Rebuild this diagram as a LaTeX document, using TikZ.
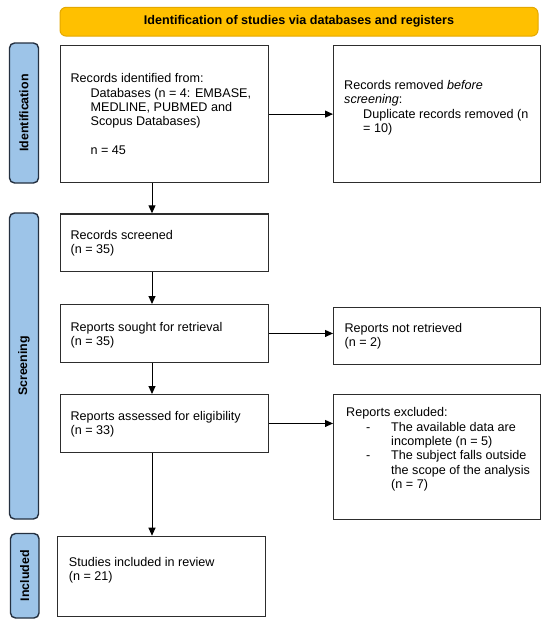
\documentclass[tikz,border=0pt]{standalone}
\usepackage{fontspec}
\setmainfont{Liberation Sans}
\usetikzlibrary{arrows.meta}
\definecolor{bannerfill}{RGB}{255,192,0}
\definecolor{bannerline}{RGB}{228,168,0}
\definecolor{barfill}{RGB}{157,196,232}
\definecolor{barline}{RGB}{36,48,64}
\definecolor{boxline}{RGB}{45,45,45}
\begin{document}
\begin{tikzpicture}[x=1pt,y=-1pt,
  box/.style={draw=boxline, line width=1.2pt, rectangle, inner sep=0pt, anchor=north west},
  txt/.style={anchor=north west, inner sep=0pt, align=left, font=\fontsize{12.6}{14.4}\selectfont},
  sidebar/.style={draw=barline, fill=barfill, line width=1.4pt, rounded corners=5pt, rectangle, inner sep=0pt, rotate=90, font=\fontsize{12.4}{14}\selectfont\bfseries},
  banner/.style={draw=bannerline, fill=bannerfill, line width=1pt, rounded corners=6pt, rectangle, inner sep=0pt, font=\fontsize{12.6}{14}\selectfont\bfseries},
  arr/.style={-{Triangle[length=8pt,width=7pt]}, line width=1pt, draw=black}
]
\useasboundingbox (0,0) rectangle (550,627);

% banner and side bars
\node[banner, minimum width=478pt, minimum height=28.7pt] (ban) at (299,21.7) {Identification of studies via databases and registers};
\node[sidebar, minimum width=140pt, minimum height=29pt] (idbar) at (24,113) {Identification};
\node[sidebar, minimum width=306pt, minimum height=29pt] (scbar) at (24,366) {Screening};
\node[sidebar, minimum width=84.5pt, minimum height=28.5pt] (inbar) at (24.75,575.75) {Included};

% boxes
\node[box, minimum width=208.5pt, minimum height=137pt] (b1) at (59.5,45) {};
\node[box, minimum width=206.5pt, minimum height=137pt] (b2) at (333,45) {};
\node[box, minimum width=208.5pt, minimum height=57.7pt] (b3) at (59.5,213.3) {};
\node[box, minimum width=208.5pt, minimum height=57.7pt] (b4) at (59.5,304) {};
\node[box, minimum width=207pt, minimum height=57.3pt] (b5) at (333,306.7) {};
\node[box, minimum width=208.5pt, minimum height=57.7pt] (b6) at (59.5,394) {};
\node[box, minimum width=207pt, minimum height=125.2pt] (b7) at (333,393.5) {};
\node[box, minimum width=207.5pt, minimum height=79.8pt] (b8) at (57,535.7) {};

% texts
\node[txt] (t1) at (70.4,73.3) {Records identified from:\\
\hspace*{20pt}Databases (n = 4: EMBASE,\\
\hspace*{20pt}MEDLINE, PUBMED and\\
\hspace*{20pt}Scopus Databases)\\[14.4pt]
\hspace*{20pt}n = 45};
\node[txt] (t2) at (344,80) {Records removed \textit{before}\\
\textit{screening}:\\
\hspace*{19pt}Duplicate records removed (n\\
\hspace*{19pt}= 10)};
\node[txt] (t3) at (70.4,230) {Records screened\\(n = 35)};
\node[txt] (t4) at (70.4,321.7) {Reports sought for retrieval\\(n = 35)};
\node[txt] (t5) at (344.4,322.7) {Reports not retrieved\\(n = 2)};
\node[txt] (t6) at (70.4,411) {Reports assessed for eligibility\\(n = 33)};
\node[txt] (t7) at (346,407.3) {Reports excluded:\\
\makebox[45pt][l]{\hspace*{20pt}-}The available data are\\
\hspace*{45pt}incomplete (n = 5)\\
\makebox[45pt][l]{\hspace*{20pt}-}The subject falls outside\\
\hspace*{45pt}the scope of the analysis\\
\hspace*{45pt}(n = 7)};
\node[txt] (t8) at (68.7,556.7) {Studies included in review\\(n = 21)};

% connectors
\coordinate (col) at (152,0);
\draw[arr] (b1.south -| col) -- (b3.north -| col);
\draw[arr] (b3.south -| col) -- (b4.north -| col);
\draw[arr] (b4.south -| col) -- (b6.north -| col);
\draw[arr] (b6.south -| col) -- (b8.north -| col);
\draw[arr] (b1.east) -- (b2.west);
\draw[arr] (b4.east) -- (b4.east -| b5.west);
\draw[arr] (b6.east) -- (b6.east -| b7.west);
\end{tikzpicture}
\end{document}
